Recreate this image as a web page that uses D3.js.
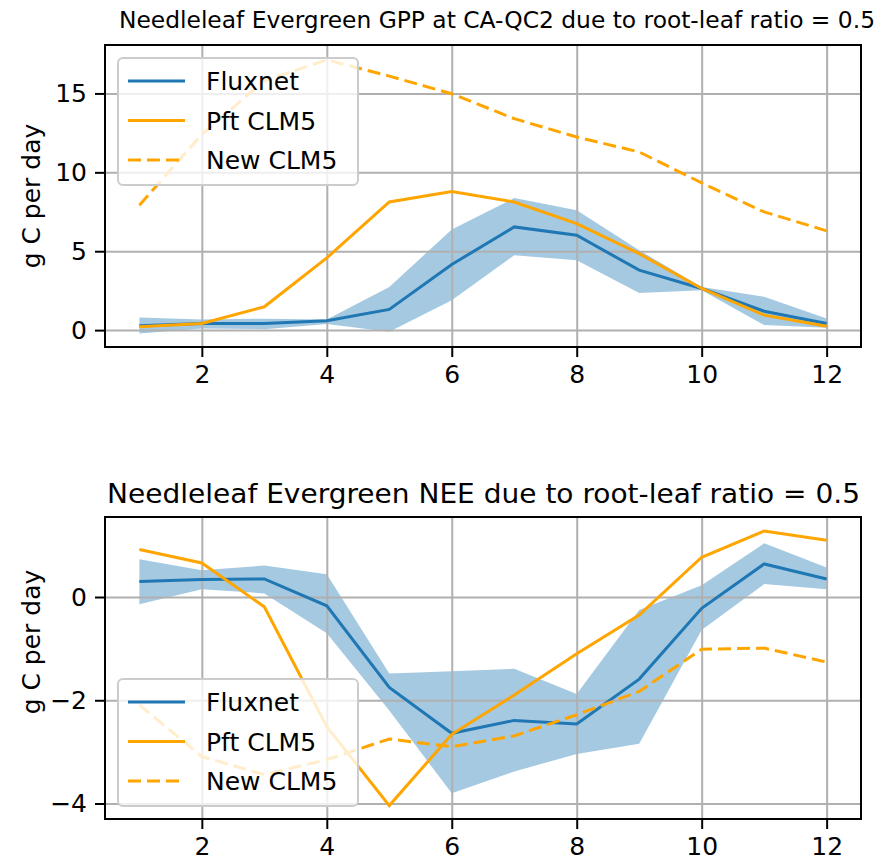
<!DOCTYPE html>
<html>
<head>
<meta charset="utf-8">
<style> body { margin: 0; background: #fff; } text { font-family: "DejaVu Sans", sans-serif; fill: #000; } </style>
<script src="https://cdn.jsdelivr.net/npm/d3@7"></script>
</head>
<body>
<div id="chart"></div>
<script>
const months = [1, 2, 3, 4, 5, 6, 7, 8, 9, 10, 11, 12];
const xTicks = [2, 4, 6, 8, 10, 12];

const gppFlux = [0.27, 0.42, 0.42, 0.59, 1.31, 4.16, 6.54, 6.01, 3.80, 2.64, 1.20, 0.42];
const gppFluxLo = [-0.21, 0.10, 0.06, 0.38, -0.10, 1.90, 4.75, 4.43, 2.36, 2.53, 0.32, 0.15];
const gppFluxHi = [0.80, 0.68, 0.72, 0.68, 2.74, 6.37, 8.37, 7.59, 5.06, 2.74, 2.11, 0.74];
const gppPft = [0.21, 0.42, 1.48, 4.58, 8.12, 8.78, 8.12, 6.75, 4.85, 2.64, 0.95, 0.25];
const gppNew = [7.91, 12.4, 15.8, 17.13, 16.1, 14.98, 13.4, 12.24, 11.29, 9.33, 7.49, 6.29];
const gppTicks = [0, 5, 10, 15];

const neeFlux = [0.30, 0.34, 0.35, -0.17, -1.75, -2.64, -2.39, -2.46, -1.59, -0.22, 0.64, 0.35];
const neeFluxLo = [-0.14, 0.15, 0.07, -0.70, -2.20, -3.80, -3.38, -3.04, -2.84, -0.64, 0.25, 0.15];
const neeFluxHi = [0.73, 0.52, 0.61, 0.44, -1.48, -1.44, -1.39, -1.88, -0.25, 0.23, 1.04, 0.57];
const neePft = [0.92, 0.66, -0.19, -2.51, -4.04, -2.66, -1.90, -1.10, -0.35, 0.77, 1.28, 1.10];
const neeNew = [-2.09, -3.09, -3.44, -3.15, -2.75, -2.90, -2.69, -2.28, -1.83, -1.01, -0.99, -1.26];
const neeTicks = [-4, -2, 0];

const legendLabels = ["Fluxnet", "Pft CLM5", "New CLM5"];
const blue = "#1f77b4", orange = "#ffa500";

const svg = d3.select("#chart").append("svg")
    .attr("width", 885).attr("height", 865);

function panel(o) {
    const x = d3.scaleLinear().domain([0.45, 12.55]).range([105, 861]);
    const y = d3.scaleLinear().domain(o.yDomain).range([o.bottom, o.top]);
    const g = svg.append("g");

    // band first, then grid, then lines (matplotlib zorder)
    g.append("path")
        .datum(months.map((m, i) => [m, o.lo[i], o.hi[i]]))
        .attr("fill", blue).attr("fill-opacity", 0.4)
        .attr("d", d3.area().x(d => x(d[0])).y0(d => y(d[1])).y1(d => y(d[2])));

    const gx = g.append("g")
        .attr("transform", `translate(0,${o.bottom})`)
        .call(d3.axisBottom(x).tickValues(xTicks).tickSize(10).tickPadding(8).tickFormat(d3.format("d")));
    gx.selectAll(".tick line").clone()
        .attr("y1", 0).attr("y2", o.top - o.bottom)
        .attr("stroke", "#b0b0b0").attr("stroke-width", 2);

    const gy = g.append("g")
        .attr("transform", "translate(105,0)")
        .call(d3.axisLeft(y).tickValues(o.yTicks).tickSize(10).tickPadding(8)
            .tickFormat(d => d < 0 ? "\u2212" + Math.abs(d) : d));
    gy.selectAll(".tick line").clone()
        .attr("x1", 0).attr("x2", 756)
        .attr("stroke", "#b0b0b0").attr("stroke-width", 2);

    [gx, gy].forEach(a => {
        a.select(".domain").remove();
        a.selectAll(".tick text").attr("font-size", 25).attr("fill", "#000");
        a.selectAll(".tick line:first-child").attr("stroke", "#000").attr("stroke-width", 2);
    });

    const line = d3.line().x((d, i) => x(months[i])).y(d => y(d));
    g.append("path").datum(o.flux).attr("fill", "none").attr("stroke", blue)
        .attr("stroke-width", 3).attr("d", line);
    g.append("path").datum(o.pft).attr("fill", "none").attr("stroke", orange)
        .attr("stroke-width", 3).attr("d", line);
    g.append("path").datum(o.nw).attr("fill", "none").attr("stroke", orange)
        .attr("stroke-width", 3).attr("stroke-dasharray", "13,6").attr("d", line);

    g.append("rect")
        .attr("x", 105).attr("y", o.top).attr("width", 756).attr("height", o.bottom - o.top)
        .attr("fill", "none").attr("stroke", "#000").attr("stroke-width", 2);

    g.append("text")
        .attr("x", o.titleX).attr("y", o.top - o.titleGap)
        .attr("font-size", o.titleSize)
        .attr("textLength", o.titleLen).attr("lengthAdjust", "spacingAndGlyphs")
        .text(o.title);

    g.append("text")
        .attr("transform", `translate(40,${o.labelY}) rotate(-90)`)
        .attr("text-anchor", "middle").attr("font-size", 25)
        .text("g C per day");

    const lg = g.append("g").attr("transform", `translate(118,${o.legendY})`);
    lg.append("rect").attr("width", 240).attr("height", 127).attr("rx", 5)
        .attr("fill", "#fff").attr("fill-opacity", 0.8)
        .attr("stroke", "#cccccc").attr("stroke-width", 2);
    const styles = [[blue, null], [orange, null], [orange, "13,6"]];
    legendLabels.forEach((t, i) => {
        const yy = 23 + i * 39.5;
        lg.append("line").attr("x1", 10).attr("x2", 67).attr("y1", yy).attr("y2", yy)
            .attr("stroke", styles[i][0]).attr("stroke-width", 3)
            .attr("stroke-dasharray", styles[i][1]);
        lg.append("text").attr("x", 88).attr("y", yy + 9).attr("font-size", 25).text(t);
    });
}

panel({
    top: 45, bottom: 347, yDomain: [-1.07, 18.07], yTicks: gppTicks,
    flux: gppFlux, lo: gppFluxLo, hi: gppFluxHi, pft: gppPft, nw: gppNew,
    title: "Needleleaf Evergreen GPP at CA-QC2 due to root-leaf ratio = 0.5",
    titleX: 119, titleGap: 17, titleSize: 23.5, titleLen: 756,
    labelY: 196, legendY: 58
});

panel({
    top: 517, bottom: 819, yDomain: [-4.3, 1.55], yTicks: neeTicks,
    flux: neeFlux, lo: neeFluxLo, hi: neeFluxHi, pft: neePft, nw: neeNew,
    title: "Needleleaf Evergreen NEE due to root-leaf ratio = 0.5",
    titleX: 107, titleGap: 14, titleSize: 27, titleLen: 753,
    labelY: 642, legendY: 679
});
</script>
</body>
</html>
